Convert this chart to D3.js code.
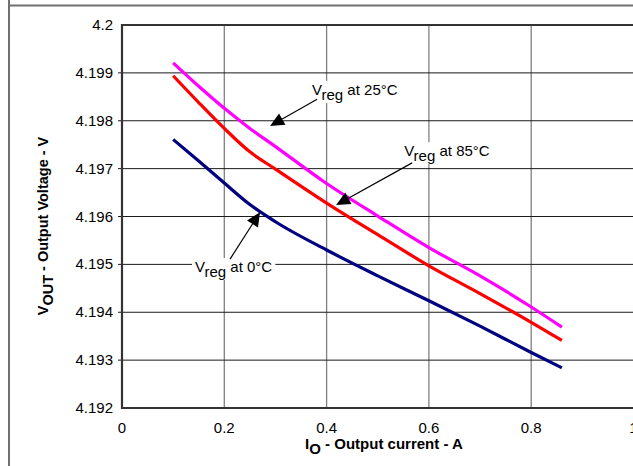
<!DOCTYPE html>
<html>
<head>
<meta charset="utf-8">
<script src="https://cdn.jsdelivr.net/npm/d3@7"></script>
<style>
  body { margin: 0; background: #fff; }
  svg { display: block; font-family: "Liberation Sans", Arial, sans-serif; }
</style>
</head>
<body>
<svg width="633" height="466"></svg>
<script>
var svg = d3.select("svg"),
    width = +svg.attr("width"),
    height = +svg.attr("height");

// output current (A)
var current = [0.1, 0.15, 0.2, 0.25, 0.3, 0.4, 0.5, 0.6, 0.7, 0.8, 0.86];

// output voltage (V) per temperature
var vreg25 = [4.19921, 4.19872, 4.19826, 4.19784, 4.19746, 4.19669, 4.19601, 4.19535, 4.19476, 4.19411, 4.19369];
var vreg85 = [4.19894, 4.19838, 4.19784, 4.19735, 4.19699, 4.19628, 4.19562, 4.19497, 4.19439, 4.19379, 4.19341];
var vreg0  = [4.19761, 4.19716, 4.19670, 4.19625, 4.19589, 4.19530, 4.19476, 4.19424, 4.19371, 4.19316, 4.19284];

var xTicks = [0, 0.2, 0.4, 0.6, 0.8, 1];
var xTickLabels = ["0", "0.2", "0.4", "0.6", "0.8", "1"];
var yTicks = [4.192, 4.193, 4.194, 4.195, 4.196, 4.197, 4.198, 4.199, 4.2];
var yTickLabels = ["4.192", "4.193", "4.194", "4.195", "4.196", "4.197", "4.198", "4.199", "4.2"];

var series = [
  {name: "25", values: vreg25, color: "#ff00ff"},
  {name: "85", values: vreg85, color: "#ff0000"},
  {name: "0",  values: vreg0,  color: "#000080"}
];

// annotation: text anchor, arrow start, arrow tip (data units)
var notes = [
  {temp: "25", tx: 0.3716, ty: 4.19854, x1: 0.3814, y1: 4.19845, x2: 0.2895, y2: 4.19789},
  {temp: "85", tx: 0.5516, ty: 4.19726, x1: 0.5672, y1: 4.19712, x2: 0.4186, y2: 4.19624},
  {temp: "0",  tx: 0.1428, ty: 4.19484, x1: 0.2112, y1: 4.19511, x2: 0.2699, y2: 4.19609}
];

var x = d3.scaleLinear().domain([0, 1]).range([122, 633.5]);
var y = d3.scaleLinear().domain([4.192, 4.2]).range([408, 25]);

// outer frame
svg.append("line").attr("x1", 9).attr("x2", 9).attr("y1", 0).attr("y2", height)
    .attr("stroke", "#707070").attr("stroke-width", 2);
svg.append("line").attr("x1", 9).attr("x2", width).attr("y1", 5.5).attr("y2", 5.5)
    .attr("stroke", "#707070").attr("stroke-width", 2);

// grid
var grid = svg.append("g");
grid.selectAll("line.v")
    .data(xTicks.filter(function(d) { return d > 0 && d < 1; }))
  .enter().append("line")
    .attr("class", "v")
    .attr("x1", function(d) { return x(d); }).attr("x2", function(d) { return x(d); })
    .attr("y1", y(4.2)).attr("y2", y(4.192))
    .attr("stroke", "#808080").attr("stroke-width", 1.3);
grid.selectAll("line.h")
    .data(yTicks.filter(function(d) { return d > 4.192 && d < 4.2; }))
  .enter().append("line")
    .attr("class", "h")
    .attr("x1", x(0) - 4).attr("x2", width)
    .attr("y1", function(d) { return y(d); }).attr("y2", function(d) { return y(d); })
    .attr("stroke", "#1a1a1a").attr("stroke-width", 1);

// axis frame
svg.append("path")
    .attr("d", "M" + width + "," + y(4.2) + "H" + x(0) + "V" + y(4.192) + "H" + width)
    .attr("fill", "none").attr("stroke", "#333").attr("stroke-width", 2.2);

// tick labels
svg.append("g").selectAll("text")
    .data(yTicks)
  .enter().append("text")
    .attr("x", x(0) - 9)
    .attr("y", function(d) { return y(d) + 5; })
    .attr("text-anchor", "end")
    .style("font-size", "15px")
    .text(function(d, i) { return yTickLabels[i]; });

svg.append("g").selectAll("text")
    .data(xTicks)
  .enter().append("text")
    .attr("x", function(d) { return x(d); })
    .attr("y", 433)
    .attr("text-anchor", "middle")
    .style("font-size", "15px")
    .text(function(d, i) { return xTickLabels[i]; });

// axis titles
var xt = svg.append("text")
    .attr("x", 384).attr("y", 449)
    .attr("text-anchor", "middle")
    .style("font-size", "15px").style("font-weight", "bold");
xt.append("tspan").text("I");
xt.append("tspan").attr("dy", 5).text("O");
xt.append("tspan").attr("dy", -5).text(" - Output current - A");

var yt = svg.append("text")
    .attr("transform", "translate(48,226) rotate(-90)")
    .attr("text-anchor", "middle")
    .style("font-size", "14.5px").style("font-weight", "bold");
yt.append("tspan").text("V");
yt.append("tspan").attr("dy", 5).text("OUT");
yt.append("tspan").attr("dy", -5).text(" - Output Voltage - V");

// curves
var line = d3.line()
    .x(function(d) { return x(d[0]); })
    .y(function(d) { return y(d[1]); })
    .curve(d3.curveMonotoneX);

svg.append("g").selectAll("path")
    .data(series)
  .enter().append("path")
    .attr("d", function(s) { return line(current.map(function(c, i) { return [c, s.values[i]]; })); })
    .attr("fill", "none")
    .attr("stroke", function(s) { return s.color; })
    .attr("stroke-width", 3.2);

// annotations
var ann = svg.append("g");
notes.forEach(function(n) {
  var g = ann.append("g");
  var bg = g.append("rect").attr("fill", "#fff");
  var t = g.append("text")
      .attr("x", x(n.tx)).attr("y", y(n.ty))
      .style("font-size", "15px");
  t.append("tspan").text("V");
  t.append("tspan").attr("dy", 5).text("reg");
  t.append("tspan").attr("dy", -5).text(" at " + n.temp + "\u00b0C");
  var bb = t.node().getBBox();
  bg.attr("x", bb.x - 3).attr("y", bb.y).attr("width", bb.width + 6).attr("height", bb.height);

  var px1 = x(n.x1), py1 = y(n.y1), px2 = x(n.x2), py2 = y(n.y2);
  var ang = Math.atan2(py2 - py1, px2 - px1);
  var len = 14, hw = 6.5;
  var bx = px2 - len * Math.cos(ang), by = py2 - len * Math.sin(ang);
  g.append("line")
      .attr("x1", px1).attr("y1", py1).attr("x2", bx).attr("y2", by)
      .attr("stroke", "#000").attr("stroke-width", 1.2);
  g.append("path")
      .attr("d", "M" + px2 + "," + py2 +
                 "L" + (bx + hw * Math.sin(ang)) + "," + (by - hw * Math.cos(ang)) +
                 "L" + (bx - hw * Math.sin(ang)) + "," + (by + hw * Math.cos(ang)) + "Z")
      .attr("fill", "#000");
});
</script>
</body>
</html>
